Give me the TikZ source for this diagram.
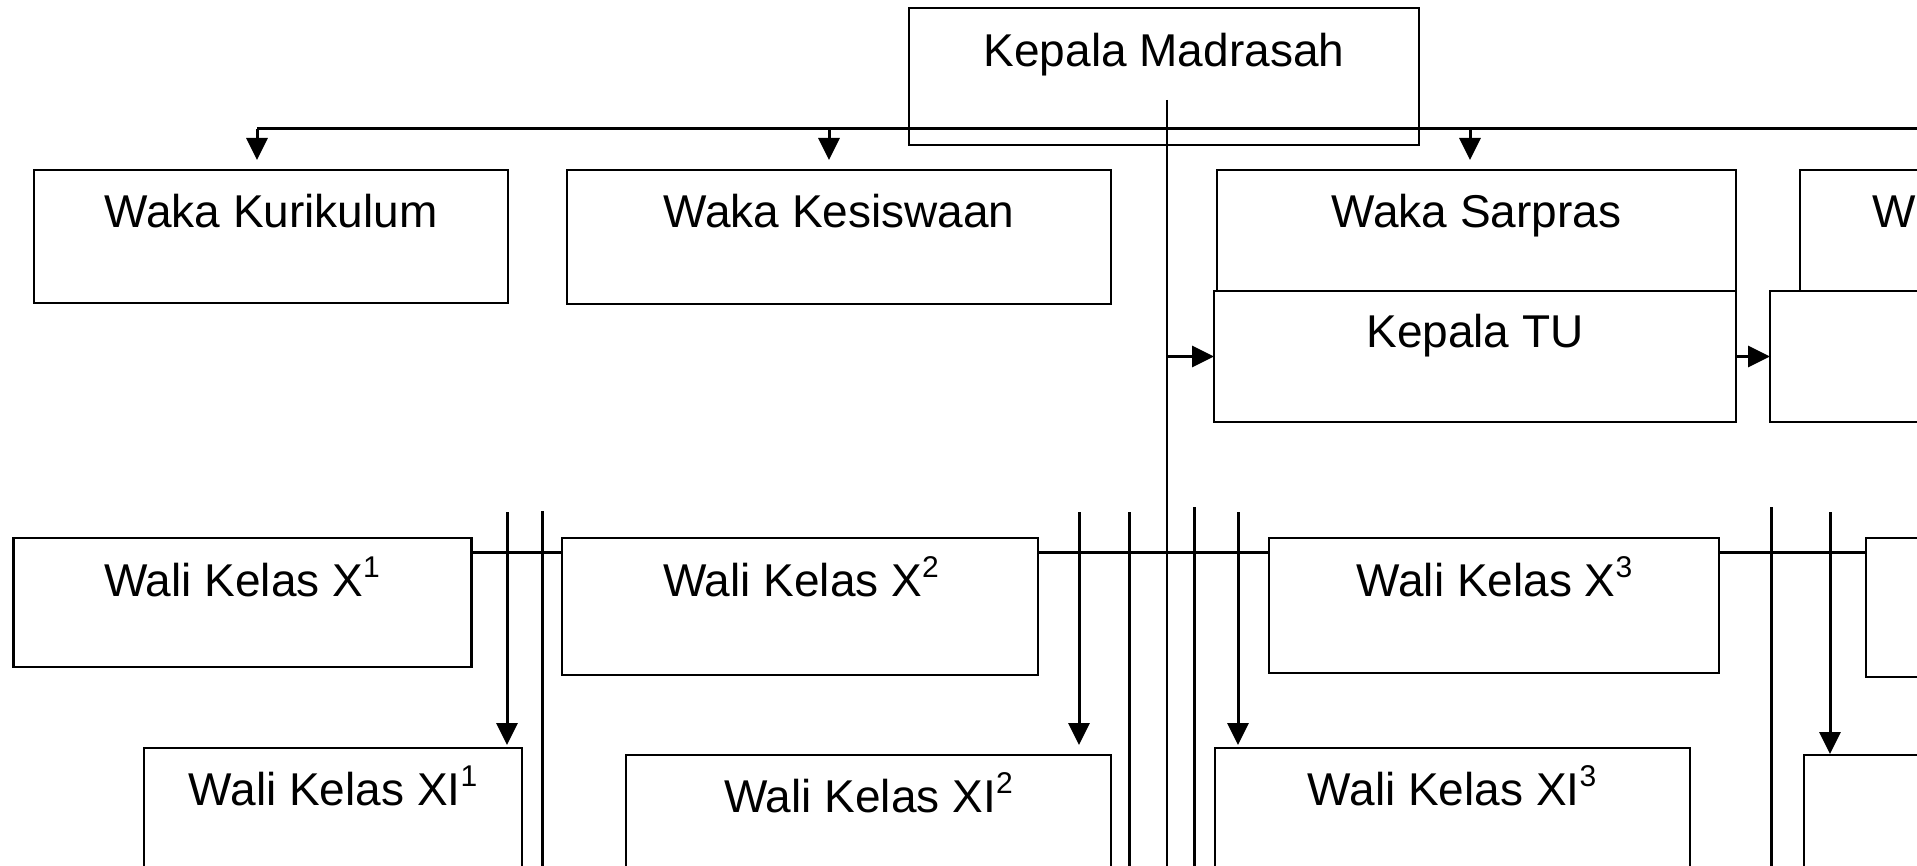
\documentclass[tikz,border=0pt]{standalone}
\usepackage{fontspec}
\setmainfont{Liberation Sans}
\usetikzlibrary{arrows.meta,calc}
\newcommand\supn[1]{\raisebox{0.41em}{\fontsize{30}{30}\selectfont #1}}
\tikzset{
  box/.style={draw, line width=2.8pt, rectangle, inner sep=0pt, outer sep=0pt, anchor=north west},
  txt/.style={font=\fontsize{46}{52}\selectfont, inner sep=0pt, anchor=base},
  conn/.style={line width=3pt},
  arr/.style={conn, -{Triangle[length=22pt,width=21pt]}},
  spine/.style={line width=2.5pt},
}
\begin{document}
\begin{tikzpicture}[x=1pt,y=-1pt]
\useasboundingbox (0,0) rectangle (1917,866);
\clip (0,0) rectangle (1917,866);

% ---- boxes
\node[box, minimum width=510pt, minimum height=137pt] (km)  at (909,8) {};
\node[box, minimum width=474pt, minimum height=133pt] (kur) at (34,170) {};
\node[box, minimum width=544pt, minimum height=134pt] (kes) at (567,170) {};
\node[box, minimum width=519pt, minimum height=121pt] (sar) at (1217,170) {};
\node[box, minimum width=300pt, minimum height=121pt] (wk4) at (1800,170) {};
\node[box, minimum width=522pt, minimum height=131pt] (tu)  at (1214,291) {};
\node[box, minimum width=300pt, minimum height=131pt] (b5)  at (1770,291) {};
\node[box, minimum width=458pt, minimum height=129pt] (x1)  at (13.5,538) {};
\node[box, minimum width=476pt, minimum height=137pt] (x2)  at (562,538) {};
\node[box, minimum width=450pt, minimum height=135pt] (x3)  at (1269,538) {};
\node[box, minimum width=300pt, minimum height=139pt] (x4)  at (1866,538) {};
\node[box, minimum width=378pt, minimum height=200pt] (xi1) at (144,748) {};
\node[box, minimum width=485pt, minimum height=200pt] (xi2) at (626,755) {};
\node[box, minimum width=475pt, minimum height=200pt] (xi3) at (1215,748) {};
\node[box, minimum width=300pt, minimum height=200pt] (xi4) at (1804,755) {};

% ---- texts
\node[txt] (km-t)  at (1164,67)  {Kepala Madrasah};
\node[txt] (kur-t) at (271,228)  {Waka Kurikulum};
\node[txt] (kes-t) at (839,228)  {Waka Kesiswaan};
\node[txt] (sar-t) at (1476.5,228) {Waka Sarpras};
\node[txt, anchor=base west] (wk4-t) at (1872,228) {W};
\node[txt] (tu-t)  at (1475,348) {Kepala TU};
\node[txt] (x1-t)  at (242,596) {Wali Kelas X\supn{1}};
\node[txt] (x2-t)  at (801,596) {Wali Kelas X\supn{2}};
\node[txt] (x3-t)  at (1494.5,596) {Wali Kelas X\supn{3}};
\node[txt] (xi1-t) at (333,805) {Wali Kelas XI\supn{1}};
\node[txt] (xi2-t) at (868.5,812) {Wali Kelas XI\supn{2}};
\node[txt] (xi3-t) at (1452,805) {Wali Kelas XI\supn{3}};

% ---- top distribution line
\coordinate (t1) at (257,129);
\coordinate (t2) at (829,129);
\coordinate (t3) at (1470,129);
\coordinate (tend) at (1930,129);
\draw[conn] (t1) -- (tend);
\draw[arr] (t1) -- ($(kur.north -| t1)+(0,-10)$);
\draw[arr] (t2) -- ($(kes.north -| t2)+(0,-10)$);
\draw[arr] (t3) -- ($(sar.north -| t3)+(0,-10)$);

% ---- spine from Kepala Madrasah
\coordinate (sp) at (1167,100);
\coordinate (spb) at (1167,890);
\draw[spine] (sp) -- (spb);
\draw[arr] (tu.west -| sp) -- (tu.west);
\draw[arr] (tu.east) -- (b5.west);

% ---- row of Wali Kelas X
\coordinate (hl) at (0,552);
\draw[conn] (x1.east |- hl) -- (x2.west |- hl);
\draw[conn] (x2.east |- hl) -- (x3.west |- hl);
\draw[conn] (x3.east |- hl) -- (x4.west |- hl);

% ---- vertical lines
\coordinate (v1) at (507,512);
\coordinate (v2) at (1079,512);
\coordinate (v3) at (1238,512);
\coordinate (v4) at (1830,512);
\draw[arr] (v1) -- ($(v1 |- xi1.north)+(0,-3)$);
\draw[arr] (v2) -- ($(v2 |- xi2.north)+(0,-10)$);
\draw[arr] (v3) -- ($(v3 |- xi3.north)+(0,-3)$);
\draw[arr] (v4) -- ($(v4 |- xi4.north)+(0,-1)$);

\coordinate (p1) at (542,511);
\coordinate (p2) at (1129,512);
\coordinate (p3) at (1194,507);
\coordinate (p4) at (1771,507);
\draw[conn] (p1) -- (p1 |- spb);
\draw[conn] (p2) -- (p2 |- spb);
\draw[conn] (p3) -- (p3 |- spb);
\draw[conn] (p4) -- (p4 |- spb);
\end{tikzpicture}
\end{document}
